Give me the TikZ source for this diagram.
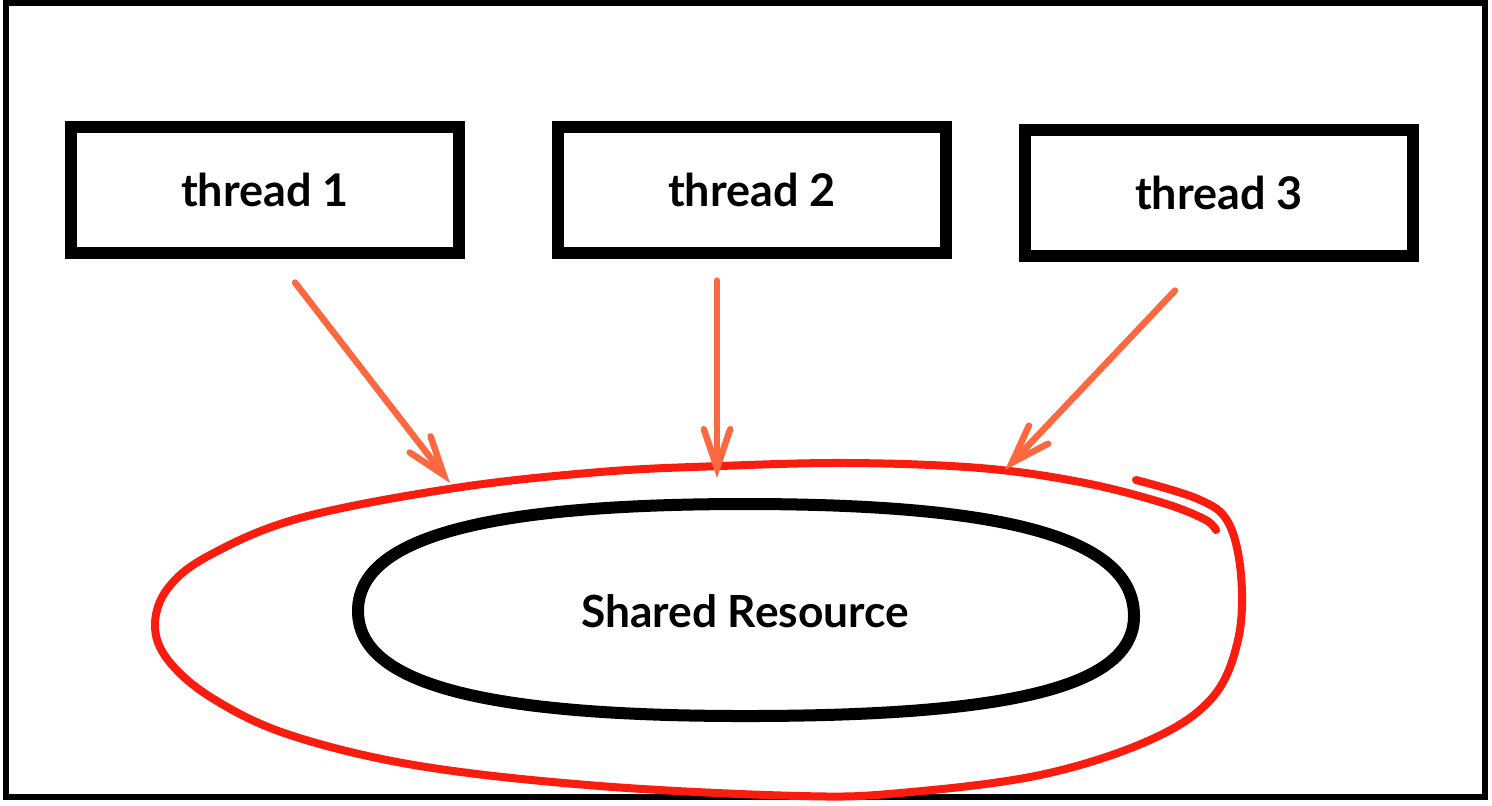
\documentclass[tikz,border=0pt]{standalone}
\usepackage{fontspec}
\newfontfamily\latofont{Lato}
\usetikzlibrary{arrows.meta,calc}
\definecolor{lockred}{RGB}{250,28,14}
\definecolor{accessorange}{RGB}{252,104,64}
\tikzset{%
  threadbox/.style = {shape=rectangle, draw, line width=0.12cm,%
                      minimum width=3.87cm, minimum height=1.25cm,%
                      font=\latofont\bfseries\fontsize{12.8}{15}\selectfont},%
  restext/.style   = {font=\latofont\bfseries\fontsize{12.6}{15}\selectfont},%
  resline/.style   = {line width=0.12cm},%
  lockline/.style  = {draw=lockred, line width=0.08cm, line cap=round},%
  access/.style    = {draw=accessorange, line width=0.065cm, line cap=round,%
                      -{Straight Barb[length=11pt,width=7.5pt,line cap=round]}},%
  frame/.style     = {line width=0.06cm}%
}

\begin{document}
\begin{tikzpicture}[x=0.01cm,y=-0.01cm]
	\useasboundingbox (0,0) rectangle (1492,805);
	\draw[frame] (6,3) rectangle (1485,797);%
	% threads
	\node[threadbox] (t1) at (265,190) {thread 1};%
	\node[threadbox] (t2) at (752,190) {thread 2};%
	\node[threadbox] (t3) at (1219,193) {thread 3};%
	% shared resource
	\node[restext] (res) at (745,611) {Shared Resource};%
	\begin{scope}[shift={(res)}]
		\draw[resline] (-387,0) .. controls (-387,-72) and (-265,-107) .. (0,-107)%
			.. controls (265,-107) and (389,-72) .. (389,5)%
			.. controls (389,76) and (265,105) .. (0,105)%
			.. controls (-265,105) and (-387,72) .. (-387,0) -- cycle;%
	\end{scope}
	% lock around the resource
	\draw[lockline] plot[smooth, tension=0.6] coordinates {%
		(1136,480) (1198,499) (1228,522) (1241,575) (1238,640) (1212,698)%
		(1150,740) (1040,775) (900,793) (800,796) (600,786) (420,766)%
		(290,735) (212,698) (168,660) (155,625) (168,588) (210,555)%
		(300,518) (455,488) (600,472) (720,466) (850,463) (980,468)%
		(1080,482) (1160,502) (1204,519) (1216,530)};%
	\coordinate (hit1) at (450,483);%
	\coordinate (hit2) at (717,478);%
	\coordinate (hit3) at (1005,470);%
	\draw[access] ($(t1.south)+(30,24)$) -- (hit1);%
	\draw[access] ($(t2.south)+(-35,22)$) -- (hit2);%
	\draw[access] ($(t3.south)+(-44,29)$) -- (hit3);%
\end{tikzpicture}
\end{document}
